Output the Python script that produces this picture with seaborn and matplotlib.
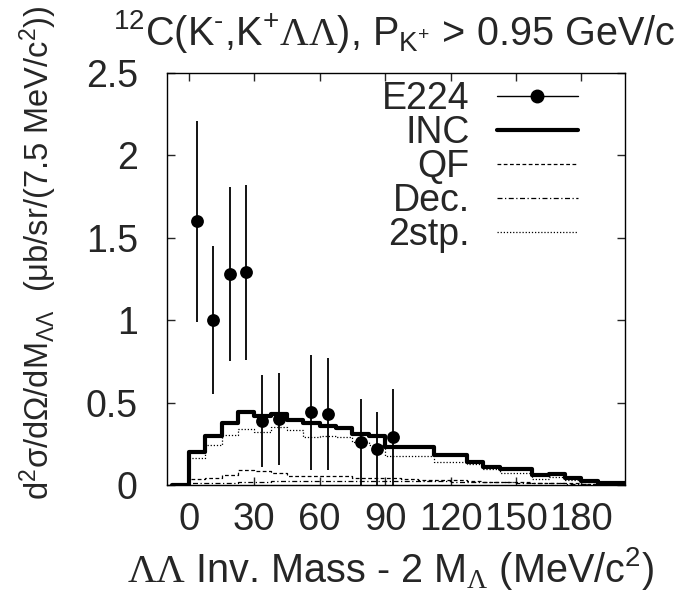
import numpy as np
import pandas as pd
import matplotlib
matplotlib.use("Agg")
import matplotlib.pyplot as plt
from matplotlib.lines import Line2D
import seaborn as sns

# 7.5 MeV bins, the first one (below threshold) is empty
bin_edges = np.arange(-7.5, 210.0, 7.5)

inc = [0.0, 0.198, 0.297, 0.378, 0.445, 0.419, 0.429, 0.394, 0.374, 0.358,
       0.344, 0.309, 0.300, 0.229, 0.229, 0.229, 0.182, 0.185, 0.138, 0.110,
       0.100, 0.095, 0.058, 0.069, 0.044, 0.025, 0.015, 0.012]
qf = [0.0, 0.035, 0.040, 0.060, 0.090, 0.085, 0.070, 0.055, 0.055, 0.055,
      0.055, 0.040, 0.040, 0.040, 0.035, 0.030, 0.030, 0.030, 0.025, 0.020,
      0.020, 0.020, 0.015, 0.015, 0.010, 0.005, 0.003, 0.002]
dec = [0.0, 0.010, 0.012, 0.015, 0.018, 0.020, 0.022, 0.024, 0.025, 0.026,
       0.026, 0.026, 0.025, 0.025, 0.024, 0.024, 0.022, 0.020, 0.020, 0.018,
       0.016, 0.015, 0.012, 0.010, 0.008, 0.006, 0.004, 0.003]
two_step = [0.0, 0.166, 0.243, 0.303, 0.340, 0.324, 0.354, 0.334, 0.290, 0.300,
            0.290, 0.263, 0.243, 0.176, 0.176, 0.176, 0.140, 0.140, 0.125, 0.095,
            0.075, 0.075, 0.036, 0.047, 0.030, 0.020, 0.012, 0.008]

# E224 data
e224_x = [3.75, 11.25, 18.75, 26.25, 33.75, 41.25, 56.25, 63.75, 78.75, 86.25, 93.75]
e224_y = [1.60, 1.00, 1.28, 1.29, 0.39, 0.40, 0.44, 0.43, 0.26, 0.22, 0.29]
e224_err = [0.61, 0.45, 0.53, 0.53, 0.28, 0.28, 0.35, 0.34, 0.26, 0.22, 0.29]

xtick_vals = [0, 30, 60, 90, 120, 150, 180]
ytick_vals = [0, 0.5, 1, 1.5, 2, 2.5]

sns.set_style("white")
plt.rcParams['font.family'] = ['Liberation Sans', 'DejaVu Sans']
plt.rcParams['mathtext.fontset'] = 'custom'
plt.rcParams['mathtext.rm'] = 'Liberation Sans'
plt.rcParams['mathtext.it'] = 'Liberation Sans:italic'
plt.rcParams['mathtext.cal'] = 'Liberation Serif'
fs = 27

fig = plt.figure(figsize=(6.88, 5.98), dpi=100)
ax = fig.add_axes([167 / 688, 1 - 485 / 598, 458 / 688, 412 / 598])

centers = (bin_edges[:-1] + bin_edges[1:]) / 2
styles = [
    ("INC", inc, dict(linewidth=3.0, linestyle="-")),
    ("QF", qf, dict(linewidth=0.9, linestyle=(0, (3, 2)))),
    ("Dec.", dec, dict(linewidth=0.9, linestyle=(0, (4, 2, 1, 2)))),
    ("2stp.", two_step, dict(linewidth=0.9, linestyle=(0, (1, 1.5)))),
]
for name, vals, kw in styles:
    df = pd.DataFrame({"mass": centers, "w": vals})
    sns.histplot(data=df, x="mass", weights="w", bins=list(bin_edges),
                 element="step", fill=False, color="black", ax=ax, **kw)

ax.errorbar(e224_x, e224_y, yerr=e224_err, fmt="none", ecolor="black",
            elinewidth=1.3, capsize=0, zorder=4)
sns.scatterplot(x=e224_x, y=e224_y, color="black", s=85, linewidth=0,
                zorder=5, ax=ax)

ax.set_xlim(-10, 200)
ax.set_ylim(0, 2.5)
ax.set_xlabel("")
ax.set_ylabel("")

ax.set_xticks(xtick_vals, labels=[str(v) for v in xtick_vals])
ax.set_yticks(ytick_vals, labels=[f"{v:g}" for v in ytick_vals])
ax.tick_params(axis="x", direction="in", length=6, width=1, top=True,
               bottom=True, pad=12, labelsize=27.5)
ax.tick_params(axis="y", direction="in", length=6, width=1, left=True,
               right=True, pad=21, labelsize=fs)
for sp in ax.spines.values():
    sp.set_linewidth(1.0)
    sp.set_color("black")

handles = [
    Line2D([], [], color="black", lw=1.0, marker="o", ms=9),
    Line2D([], [], color="black", lw=3.0),
    Line2D([], [], color="black", lw=0.9, ls=(0, (3, 2))),
    Line2D([], [], color="black", lw=0.9, ls=(0, (4, 2, 1, 2))),
    Line2D([], [], color="black", lw=0.9, ls=(0, (1, 1.5))),
]
names = ["E224", "INC", "QF", "Dec.", "2stp."]
ax.legend(handles, names, loc="upper right", bbox_to_anchor=(0.897, 0.981),
          frameon=False, markerfirst=False, fontsize=fs, borderpad=0,
          borderaxespad=0, handlelength=2.16, handletextpad=0.72,
          labelspacing=-0.05)

fig.text(394 / 688, 1 - 45 / 598,
         r"$^{12}$C(K$^{\text{-}}$,K$^{+}\mathcal{ΛΛ}$), P$_{\mathrm{K}^{+}}$ > 0.95 GeV/c",
         ha="center", va="baseline", fontsize=28.5)
fig.text(391 / 688, 1 - 582 / 598,
         r"$\mathcal{ΛΛ}$ Inv. Mass - 2 M$_{\mathcal{Λ}}$ (MeV/c$^{2}$)",
         ha="center", va="baseline", fontsize=28.5)
fig.text(38 / 688, 1 - 253 / 598,
         r"d$^{2}$σ/dΩ/dM$_{ΛΛ}$  (μb/sr/(7.5 MeV/c$^{2}$))",
         ha="center", va="center", rotation=90, fontsize=23.5)

fig.savefig("out.png", dpi=100)
